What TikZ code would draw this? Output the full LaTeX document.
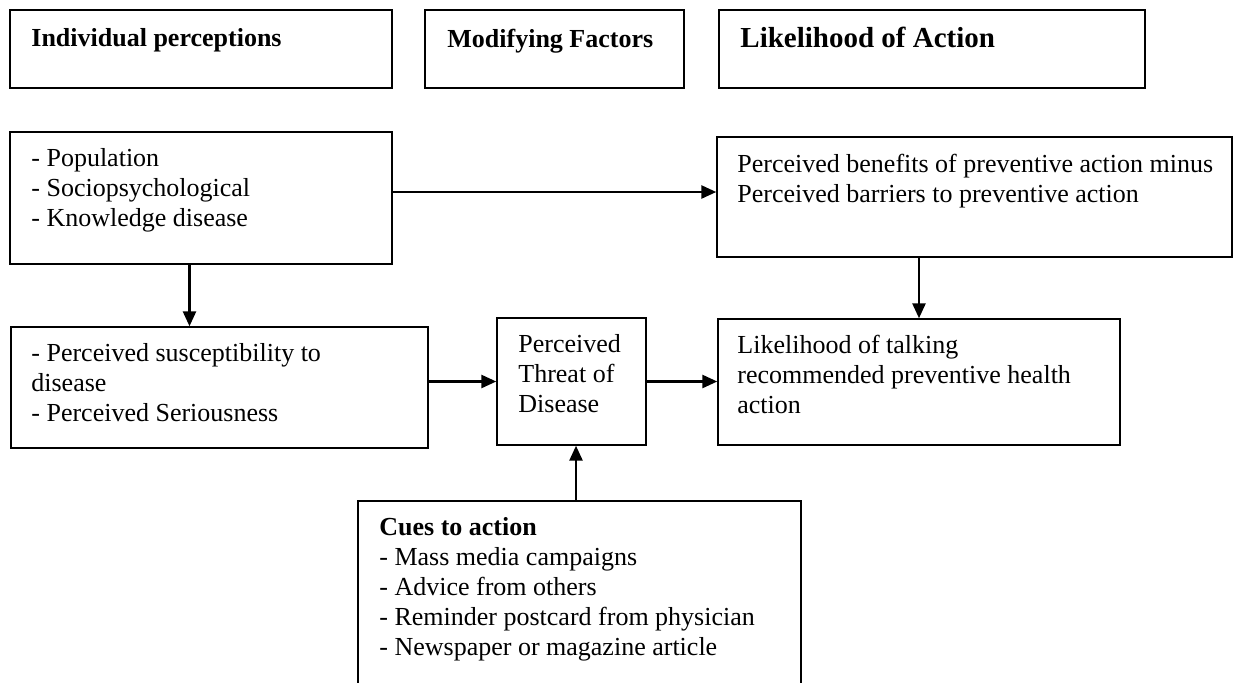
\documentclass[tikz,border=0pt]{standalone}
\usepackage{fontspec}
\setmainfont{Liberation Serif}
\usetikzlibrary{arrows.meta,fit,calc}
\begin{document}
\begin{tikzpicture}[x=0.5pt,y=-0.5pt,
  box/.style={draw=black, line width=0.7pt, inner sep=0pt},
  txt/.style={anchor=north west, inner sep=0pt, align=left, font=\fontsize{13pt}{15pt}\selectfont},
  arr/.style={line width=1.3pt, -{Triangle[length=7.5pt,width=6.5pt]}}]
\useasboundingbox (0,0) rectangle (1248,682);
% boxes
\node[box, fit={(10,10)(392,88)}] (b1) {};
\node[box, fit={(425,10)(684,88)}] (b2) {};
\node[box, fit={(719,10)(1145,88)}] (b3) {};
\node[box, fit={(10,132)(392,264)}] (pop) {};
\node[box, fit={(717,137)(1232,257)}] (ben) {};
\node[box, fit={(11,327)(428,448)}] (sus) {};
\node[box, fit={(497,318)(646,445)}] (thr) {};
\node[box, fit={(718,319)(1120,445)}] (lik) {};
\node[box, fit={(358,501)(801,720)}] (cue) {};
% texts
\node[txt] (t1) at (31,28) {\textbf{Individual perceptions}};
\node[txt] (t2) at (447,29) {\textbf{Modifying Factors}};
\node[txt, font=\fontsize{14.5pt}{16pt}\selectfont] (t3) at (740,27) {\textbf{Likelihood of Action}};
\node[txt] (t4) at (31,148) {- Population\\- Sociopsychological\\- Knowledge disease};
\node[txt] (t5) at (737,154) {Perceived benefits of preventive action minus\\Perceived barriers to preventive action};
\node[txt] (t6) at (31,343) {- Perceived susceptibility to\\disease\\- Perceived Seriousness};
\node[txt] (t7) at (518,334) {Perceived\\Threat of\\Disease};
\node[txt] (t8) at (737,335) {Likelihood of talking\\recommended preventive health\\action};
\node[txt] (t9) at (379,517) {\textbf{Cues to action}\\- Mass media campaigns\\- Advice from others\\- Reminder postcard from physician\\- Newspaper or magazine article};
% connectors
\coordinate (popE) at ($(pop.north east)!0.455!(pop.south east)$);
\draw[arr] (popE) -- (popE -| ben.west);
\coordinate (popS) at ($(pop.south west)!0.47!(pop.south east)$);
\draw[arr] (popS) -- (popS |- sus.north);
\draw[arr] (lik.north |- ben.south) -- (lik.north);
\draw[arr] (sus.east |- thr.west) -- (thr.west);
\draw[arr] (thr.east) -- (thr.east -| lik.west);
\coordinate (thrS) at ($(thr.south west)!0.53!(thr.south east)$);
\draw[arr] (thrS |- cue.north) -- (thrS);
\end{tikzpicture}
\end{document}
